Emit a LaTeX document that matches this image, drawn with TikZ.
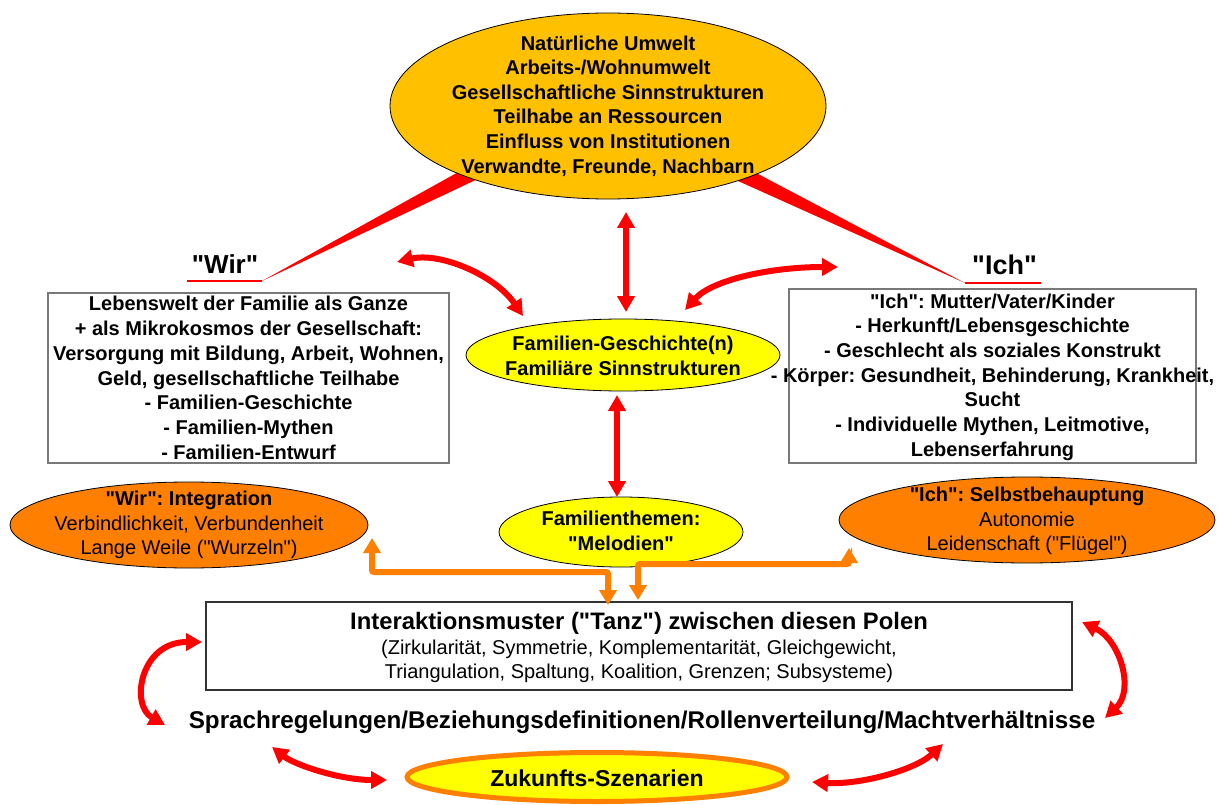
\documentclass[tikz,border=0pt]{standalone}
\usepackage{fontspec}
\setmainfont{Liberation Sans}[Ligatures=TeXOff]
\usetikzlibrary{arrows.meta,shapes.geometric,calc}
\definecolor{gold}{RGB}{255,192,0}
\definecolor{orng}{RGB}{255,128,0}
\definecolor{yel}{RGB}{255,255,0}
\definecolor{rd}{RGB}{255,0,0}
\definecolor{boxgray}{RGB}{120,120,120}
\frenchspacing
\begin{document}
\begin{tikzpicture}[x=1pt,y=-1pt,
  ell/.style={ellipse, draw=black, line width=0.8pt, inner sep=0pt},
  graybox/.style={draw=boxgray, line width=1.3pt, inner sep=0pt},
  darkbox/.style={draw=black!80, line width=1.3pt, inner sep=0pt},
  txt/.style={align=center, inner sep=0pt, font=\fontsize{20}{24.6}\selectfont\bfseries},
  ntxt/.style={align=center, inner sep=0pt, font=\fontsize{20}{24.2}\selectfont},
  redarr/.style={draw=rd, line width=6pt,
    {Triangle[width=17pt,length=16pt]}-{Triangle[width=17pt,length=16pt]}},
  orarr/.style={draw=orng, line width=6pt, rounded corners=2pt,
    {Triangle[width=17pt,length=15pt]}-{Triangle[width=17pt,length=15pt]}},
  wedge/.style={fill=rd, draw=none}
]
\useasboundingbox (0,0) rectangle (1218,805);

% ---------- coordinates for the red wedges ----------
\coordinate (wirtip) at (262,281);
\coordinate (wirend) at (187,281);
\coordinate (ichtip) at (965,283);
\coordinate (ichend) at (1041,283);

\fill[wedge] (wirtip) -- (486.2,156.6) -- (493.8,171.4) -- cycle;
\fill[wedge] (ichtip) -- (728.6,158.5) -- (721.4,173.5) -- cycle;
\draw[rd, line width=2pt] (wirend) -- (wirtip);
\draw[rd, line width=2pt] (ichtip) -- (ichend);

% ---------- top ellipse ----------
\node[ell, fill=gold, minimum width=436pt, minimum height=186pt] (umwelt) at (608,106) {};
\node[txt] (umwelttxt) at (608,106) {Natürliche Umwelt\\Arbeits-/Wohnumwelt\\Gesellschaftliche Sinnstrukturen\\Teilhabe an Ressourcen\\Einfluss von Institutionen\\Verwandte, Freunde, Nachbarn};

% ---------- labels Wir / Ich ----------
\node[inner sep=0pt, font=\fontsize{26}{30}\selectfont\bfseries] (wirlbl) at (225,264) {"Wir"};
\node[inner sep=0pt, font=\fontsize{27}{30}\selectfont\bfseries] (ichlbl) at (1004.5,265) {"Ich"};

% ---------- boxes ----------
\node[graybox, minimum width=401pt, minimum height=170pt] (wirbox) at (248.5,378) {};
\node[txt, font=\fontsize{20}{24.8}\selectfont\bfseries] (wirboxtxt) at (248.5,378) {Lebenswelt der Familie als Ganze\\+ als Mikrokosmos der Gesellschaft:\\Versorgung mit Bildung, Arbeit, Wohnen,\\Geld, gesellschaftliche Teilhabe\\- Familien-Geschichte\\- Familien-Mythen\\- Familien-Entwurf};

\node[graybox, minimum width=407pt, minimum height=174pt] (ichbox) at (992.5,376) {};
\node[txt, font=\fontsize{20}{24.7}\selectfont\bfseries] (ichboxtxt) at (992.5,377) {"Ich": Mutter/Vater/Kinder\\- Herkunft/Lebensgeschichte\\- Geschlecht als soziales Konstrukt\\- Körper: Gesundheit, Behinderung, Krankheit,\\Sucht\\- Individuelle Mythen, Leitmotive,\\Lebenserfahrung};

% ---------- middle ellipses ----------
\node[ell, fill=yel, minimum width=314pt, minimum height=72pt] (fg) at (623,355) {};
\node[txt, font=\fontsize{20}{25}\selectfont\bfseries] (fgtxt) at (623,356) {Familien-Geschichte(n)\\Familiäre Sinnstrukturen};

\node[ell, fill=yel, minimum width=244pt, minimum height=70pt] (ft) at (621,532) {};
\node[txt, font=\fontsize{20}{24.5}\selectfont\bfseries] (fttxt) at (621,531) {Familienthemen:\\"Melodien"};

\node[ell, fill=orng, minimum width=358pt, minimum height=86pt] (wirint) at (189,525) {};
\node[ntxt] (wirinttxt) at (189,525) {{\bfseries "Wir": Integration}\\Verbindlichkeit, Verbundenheit\\Lange Weile ("Wurzeln")};

\node[ell, fill=orng, minimum width=376pt, minimum height=86pt] (ichsb) at (1027,520) {};
\node[ntxt] (ichsbtxt) at (1027,521) {{\bfseries "Ich": Selbstbehauptung}\\Autonomie\\Leidenschaft ("Flügel")};

% ---------- Interaktionsmuster ----------
\node[darkbox, minimum width=866pt, minimum height=88pt] (inter) at (639,646) {};
\node[inner sep=0pt, font=\fontsize{23.8}{28}\selectfont\bfseries] (intertitle) at (639,623) {Interaktionsmuster ("Tanz") zwischen diesen Polen};
\node[ntxt, font=\fontsize{20}{24}\selectfont] (interbody) at (639,661) {(Zirkularität, Symmetrie, Komplementarität, Gleichgewicht,\\Triangulation, Spaltung, Koalition, Grenzen; Subsysteme)};

\node[inner sep=0pt, font=\fontsize{24.2}{28}\selectfont\bfseries] (sprach) at (642,722) {Sprachregelungen/Beziehungsdefinitionen/Rollenverteilung/Machtverhältnisse};

\node[ellipse, draw=orng, line width=5pt, fill=yel, inner sep=0pt, minimum width=380pt, minimum height=49pt] (zuk) at (597,777) {};
\node[inner sep=0pt, font=\fontsize{23}{27}\selectfont\bfseries] (zuktxt) at (597,778) {Zukunfts-Szenarien};

% ---------- red arrows ----------
\coordinate (v1a) at (626,212);
\coordinate (v1b) at (626,312);
\draw[redarr] (v1a) -- (v1b);

\coordinate (v2a) at (617,395);
\coordinate (v2b) at (617,497);
\draw[redarr] (v2a) -- (v2b);

\coordinate (c1a) at (397,262);
\coordinate (c1b) at (523,316);
\draw[redarr] (c1a) .. controls (440,252) and (495,275) .. (c1b);

\coordinate (c2a) at (685,310);
\coordinate (c2b) at (838,267);
\draw[redarr] (c2a) .. controls (712,280) and (770,267) .. (c2b);

\coordinate (c3a) at (202,642);
\coordinate (c3b) at (165,725);
\draw[redarr] (c3a) .. controls (140,642) and (130,705) .. (c3b);

\coordinate (c4a) at (1082,622);
\coordinate (c4b) at (1105,718);
\draw[redarr] (c4a) .. controls (1120,640) and (1135,690) .. (c4b);

\coordinate (c5a) at (272,747);
\coordinate (c5b) at (387,780);
\draw[redarr] (c5a) .. controls (295,765) and (340,780) .. (c5b);

\coordinate (c6a) at (943,744);
\coordinate (c6b) at (812,782);
\draw[redarr] (c6a) .. controls (915,770) and (860,785) .. (c6b);

% ---------- orange connectors ----------
\coordinate (oW1) at (372,538);
\coordinate (oWc) at (608,572);
\coordinate (oW2) at (608,605);
\draw[orarr] (oW1) |- (oWc) -- (oW2);

\coordinate (oI1) at (849,548);
\coordinate (oIc) at (638,564);
\coordinate (oI2) at (638,600);
\draw[orarr] (oI1) |- (oIc) -- (oI2);
\end{tikzpicture}
\end{document}
